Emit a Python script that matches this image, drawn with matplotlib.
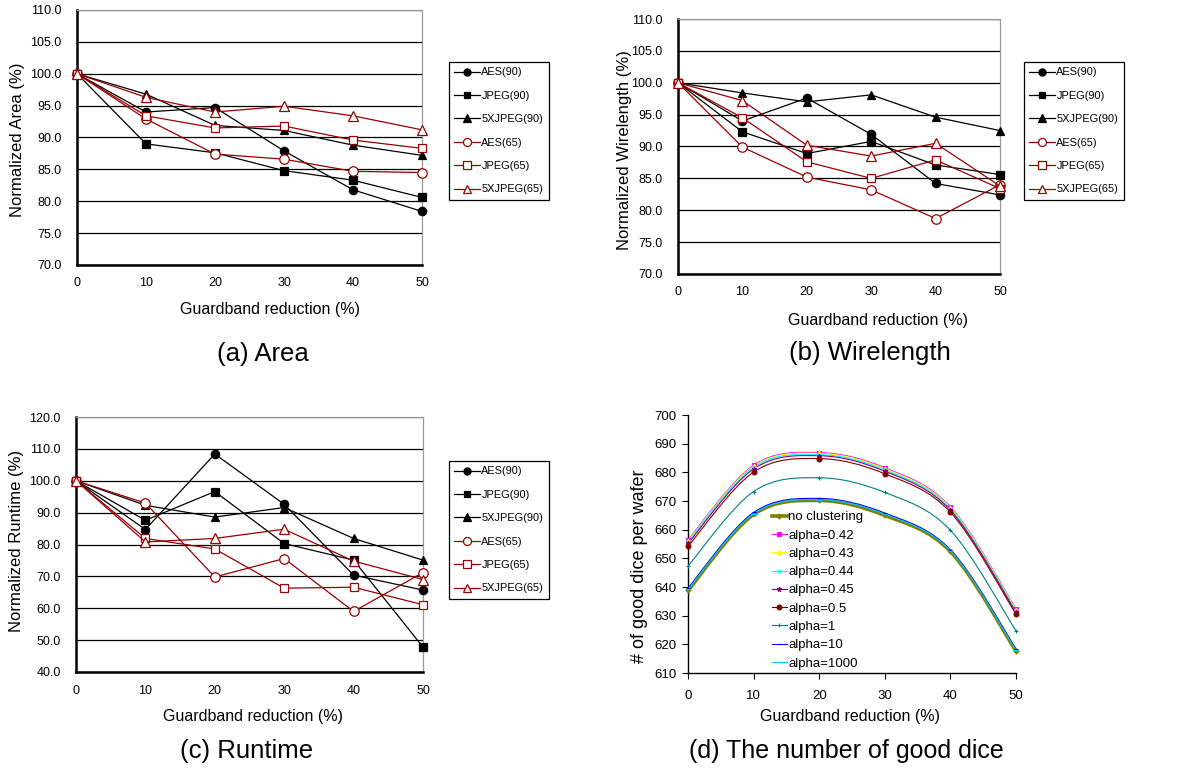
"""Four-panel guardband reduction figure: area, wirelength, runtime, good dice."""

import matplotlib

matplotlib.use("Agg")

import matplotlib.pyplot as plt
import numpy as np
from matplotlib.lines import Line2D
from matplotlib.patches import PathPatch
from matplotlib.path import Path

plt.rcParams["font.family"] = ["Liberation Sans", "DejaVu Sans"]

W, H = 1204, 768

guardband = [0, 10, 20, 30, 40, 50]
series_names = ["AES(90)", "JPEG(90)", "5XJPEG(90)", "AES(65)", "JPEG(65)", "5XJPEG(65)"]

area_aes90 = [100.0, 94.0, 94.7, 87.9, 81.8, 78.4]
area_jpeg90 = [100.0, 89.0, 87.6, 84.8, 83.3, 80.6]
area_5xjpeg90 = [100.0, 96.8, 91.9, 91.1, 88.8, 87.2]
area_aes65 = [100.0, 92.9, 87.4, 86.6, 84.7, 84.5]
area_jpeg65 = [100.0, 93.4, 91.5, 91.8, 89.6, 88.3]
area_5xjpeg65 = [100.0, 96.3, 94.0, 94.9, 93.4, 91.2]

wl_aes90 = [100.0, 94.0, 97.6, 91.9, 84.2, 82.4]
wl_jpeg90 = [100.0, 92.3, 88.9, 90.8, 87.1, 85.6]
wl_5xjpeg90 = [100.0, 98.4, 97.0, 98.1, 94.6, 92.5]
wl_aes65 = [100.0, 89.9, 85.2, 83.2, 78.7, 84.0]
wl_jpeg65 = [100.0, 94.5, 87.6, 85.0, 87.9, 83.4]
wl_5xjpeg65 = [100.0, 97.2, 90.2, 88.5, 90.5, 83.8]

rt_aes90 = [100.0, 84.7, 108.4, 92.6, 70.4, 65.7]
rt_jpeg90 = [100.0, 87.6, 96.6, 80.3, 75.1, 47.8]
rt_5xjpeg90 = [100.0, 92.3, 88.6, 91.6, 81.9, 75.1]
rt_aes65 = [100.0, 93.0, 69.8, 75.6, 59.0, 71.2]
rt_jpeg65 = [100.0, 81.9, 78.6, 66.3, 66.6, 61.1]
rt_5xjpeg65 = [100.0, 80.8, 81.9, 84.8, 74.8, 69.0]

dice_names = ["no clustering", "alpha=0.42", "alpha=0.43", "alpha=0.44", "alpha=0.45",
              "alpha=0.5", "alpha=1", "alpha=10", "alpha=1000"]
dice_none = [638.8, 665.3, 670.2, 665.0, 652.4, 617.7]
dice_a042 = [656.5, 682.5, 686.9, 681.6, 668.0, 632.4]
dice_a043 = [656.2, 682.2, 686.6, 681.3, 667.7, 632.1]
dice_a044 = [655.8, 681.8, 686.2, 680.9, 667.3, 631.7]
dice_a045 = [655.2, 681.2, 685.8, 680.4, 666.8, 631.2]
dice_a05 = [654.2, 680.1, 684.8, 679.5, 666.1, 630.5]
dice_a1 = [647.3, 673.3, 678.1, 673.0, 659.8, 624.7]
dice_a10 = [639.6, 666.0, 670.9, 665.8, 653.0, 618.3]
dice_a1000 = [639.2, 665.6, 670.5, 665.4, 652.7, 618.0]

RED = "#990000"
BENCH_STYLES = [
    dict(color="black", marker="o", mfc="black", ms=6.0),
    dict(color="black", marker="s", mfc="black", ms=5.6),
    dict(color="black", marker="^", mfc="black", ms=6.0),
    dict(color=RED, marker="o", mfc="white", ms=6.8),
    dict(color=RED, marker="s", mfc="white", ms=6.4),
    dict(color=RED, marker="^", mfc="white", ms=6.8),
]
DICE_STYLES = [
    dict(color="#808000", marker="D", ms=2.5, lw=2.6),
    dict(color="#FF00FF", marker="s", ms=3.5, lw=0.8),
    dict(color="#FFFF00", marker="^", ms=3.5, lw=0.8),
    dict(color="#00FFFF", marker="x", ms=3.5, lw=0.8),
    dict(color="#800080", marker="*", ms=3.5, lw=0.8),
    dict(color="#800000", marker="o", ms=3.5, lw=0.8),
    dict(color="#008080", marker="+", ms=3.5, lw=0.8),
    dict(color="#0000FF", marker="_", ms=3.5, lw=0.8),
    dict(color="#00CCFF", marker="_", ms=5.0, lw=0.8),
]


def rect(left, top, right, bottom):
    return [left / W, 1 - bottom / H, (right - left) / W, (bottom - top) / H]


def ftext(fig, x, y, s, **kw):
    fig.text(x / W, 1 - y / H, s, ha="center", va="center", **kw)


def smooth_path(x, y):
    """Excel-like smoothed line through the points (cubic Bezier segments)."""
    pts = np.column_stack([np.asarray(x, float), np.asarray(y, float)])
    ext = np.vstack([pts[0], pts, pts[-1]])
    verts, codes = [pts[0]], [Path.MOVETO]
    for i in range(len(pts) - 1):
        p0, p1, p2, p3 = ext[i], ext[i + 1], ext[i + 2], ext[i + 3]
        verts += [p1 + (p2 - p0) / 6, p2 - (p3 - p1) / 6, p2]
        codes += [Path.CURVE4] * 3
    return Path(verts, codes)


def bench_panel(fig, box, data, ylim, ystep, ylabel, ylabel_xy, legend_xy):
    ax = fig.add_axes(box)
    for values, st in zip(data, BENCH_STYLES):
        ax.plot(guardband, values, color=st["color"], lw=0.9, marker=st["marker"],
                ms=st["ms"], mfc=st["mfc"], mec=st["color"], mew=0.9,
                clip_on=False, zorder=3)
    ax.set_xlim(0, 50)
    ax.set_ylim(*ylim)
    ax.set_xticks(guardband)
    ax.set_yticks(np.arange(ylim[0], ylim[1] + 0.1, ystep))
    ax.yaxis.set_major_formatter(matplotlib.ticker.FormatStrFormatter("%.1f"))
    ax.yaxis.grid(True, color="black", lw=0.9)
    ax.set_axisbelow(True)
    ax.tick_params(axis="both", length=0, labelsize=9)
    ax.tick_params(axis="y", pad=11)
    ax.tick_params(axis="x", pad=9)
    for side in ("top", "right"):
        ax.spines[side].set_color("#999999")
        ax.spines[side].set_linewidth(0.9)
    for side in ("left", "bottom"):
        ax.spines[side].set_color("black")
        ax.spines[side].set_linewidth(1.8)
    ftext(fig, *ylabel_xy, ylabel, fontsize=12, rotation=90)
    handles = [Line2D([], [], color=st["color"], lw=0.9, marker=st["marker"],
                      ms=st["ms"] * 0.85, mfc=st["mfc"], mec=st["color"], mew=0.9)
               for st in BENCH_STYLES]
    leg = fig.legend(handles, series_names, loc="upper left",
                     bbox_to_anchor=(legend_xy[0] / W, 1 - legend_xy[1] / H),
                     fontsize=7.9, labelspacing=1.22, handlelength=2.3,
                     handletextpad=0.15, borderpad=0.5, borderaxespad=0,
                     fancybox=False, framealpha=1)
    leg.get_frame().set_edgecolor("black")
    leg.get_frame().set_linewidth(0.9)
    return ax


fig = plt.figure(figsize=(W / 100, H / 100), dpi=100)

bench_panel(fig, rect(77, 10, 422, 265),
            [area_aes90, area_jpeg90, area_5xjpeg90, area_aes65, area_jpeg65, area_5xjpeg65],
            (70, 110), 5, "Normalized Area (%)", (18, 140), (449, 62))
ftext(fig, 270, 310, "Guardband reduction (%)", fontsize=11.5)
ftext(fig, 263, 354, "(a) Area", fontsize=18.5)

bench_panel(fig, rect(678, 19, 1000, 274),
            [wl_aes90, wl_jpeg90, wl_5xjpeg90, wl_aes65, wl_jpeg65, wl_5xjpeg65],
            (70, 110), 5, "Normalized Wirelength (%)", (625, 150), (1024, 62))
ftext(fig, 878, 320, "Guardband reduction (%)", fontsize=11.5)
ftext(fig, 870, 353, "(b) Wirelength", fontsize=18.5)

bench_panel(fig, rect(76, 417, 423, 672),
            [rt_aes90, rt_jpeg90, rt_5xjpeg90, rt_aes65, rt_jpeg65, rt_5xjpeg65],
            (40, 120), 10, "Normalized Runtime (%)", (17, 541), (449, 461))
ftext(fig, 253, 717, "Guardband reduction (%)", fontsize=11.5)
ftext(fig, 247, 751, "(c) Runtime", fontsize=18.5)

# (d) good dice: smoothed lines, no grid, no frame on top/right
axd = fig.add_axes(rect(688, 415, 1016, 673))
dice_data = [dice_none, dice_a042, dice_a043, dice_a044, dice_a045,
             dice_a05, dice_a1, dice_a10, dice_a1000]
order = [0, 8, 7, 6, 5, 4, 3, 2, 1]
for k in order:
    st = DICE_STYLES[k]
    axd.add_patch(PathPatch(smooth_path(guardband, dice_data[k]), fill=False,
                            edgecolor=st["color"], lw=st["lw"], zorder=2 + k * 0.1,
                            clip_on=False))
    axd.plot(guardband, dice_data[k], linestyle="none", marker=st["marker"],
             ms=st["ms"], color=st["color"], mec=st["color"], mew=0.8,
             clip_on=False, zorder=3 + k * 0.1)
axd.set_xlim(0, 50)
axd.set_ylim(610, 700)
axd.set_xticks(guardband)
axd.set_yticks(np.arange(610, 701, 10))
axd.spines["top"].set_visible(False)
axd.spines["right"].set_visible(False)
axd.spines["left"].set_linewidth(1.0)
axd.spines["bottom"].set_linewidth(1.0)
axd.tick_params(axis="both", direction="out", length=4, width=0.8, labelsize=9.5)
axd.tick_params(axis="y", pad=4)
axd.tick_params(axis="x", pad=8)
ftext(fig, 640, 566, "# of good dice per wafer", fontsize=13, rotation=90)
ftext(fig, 850, 717, "Guardband reduction (%)", fontsize=11.5)
ftext(fig, 846, 751, "(d) The number of good dice", fontsize=18)

dice_handles = [Line2D([], [], color=st["color"], lw=st["lw"], marker=st["marker"],
                       ms=st["ms"], mec=st["color"], mew=0.8)
                for st in DICE_STYLES]
fig.legend(dice_handles, dice_names, loc="upper left",
           bbox_to_anchor=(772 / W, 1 - 511 / H), frameon=False,
           fontsize=9.5, labelspacing=0.46, handlelength=1.1,
           handletextpad=0.15, borderpad=0, borderaxespad=0)

fig.savefig("out.png", dpi=100)
